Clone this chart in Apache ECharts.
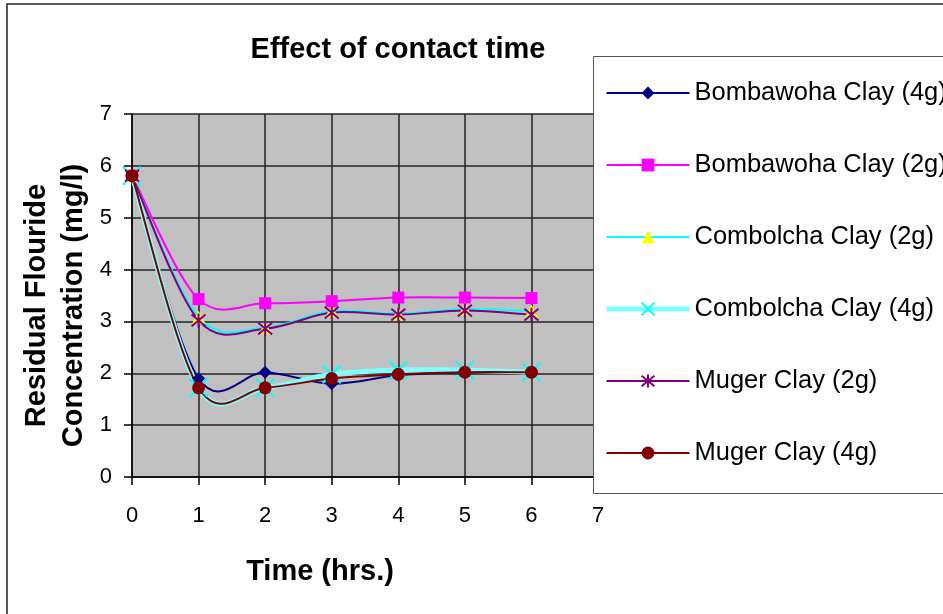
<!DOCTYPE html>
<html>
<head>
<meta charset="utf-8">
<script src="https://cdn.jsdelivr.net/npm/echarts@6/dist/echarts.min.js"></script>
<style>
  html, body { margin: 0; padding: 0; background: #ffffff; }
  #chart { width: 943px; height: 614px; }
</style>
</head>
<body>
<div id="chart"></div>
<script>
// Contact time (hours) and residual fluoride (mg/l) for each adsorbent
var hours = [0, 1, 2, 3, 4, 5, 6];
var xTicks = [0, 1, 2, 3, 4, 5, 6, 7];
var yTicks = [0, 1, 2, 3, 4, 5, 6, 7];

var bombawoha4g = [5.81, 1.90, 2.02, 1.80, 1.96, 2.02, 2.02];
var bombawoha2g = [5.81, 3.43, 3.35, 3.39, 3.46, 3.46, 3.45];
var combolcha2g = [5.81, 3.08, 2.88, 3.20, 3.15, 3.24, 3.20];
var combolcha4g = [5.81, 1.72, 1.72, 1.98, 2.06, 2.06, 2.02];
var muger2g = [5.81, 3.02, 2.86, 3.17, 3.13, 3.21, 3.13];
var muger4g = [5.81, 1.72, 1.72, 1.90, 1.98, 2.02, 2.02];

var seriesNames = [
  'Bombawoha Clay (4g)',
  'Bombawoha Clay (2g)',
  'Combolcha Clay (2g)',
  'Combolcha Clay (4g)',
  'Muger Clay (2g)',
  'Muger Clay (4g)'
];

function pairs(values) {
  return hours.map(function (h, i) { return [h, values[i]]; });
}

var FONT = '"Liberation Sans", Arial, sans-serif';

var crossPath = 'path://M0,0L10,10M10,0L0,10';
var starPath = 'path://M0,0L10,10M10,0L0,10M5,-1L5,11';

// Smoothed connecting curve: cubic Bezier segments with Catmull-Rom style
// control points (1/6 of the neighbour span), built from axis coordinates.
function curveSeries(values, color, width, z) {
  var n = values.length;
  return {
    type: 'custom',
    silent: true,
    z: z,
    data: pairs(values),
    encode: { x: 0, y: 1 },
    renderItem: function (params, api) {
      var i = params.dataIndex;
      if (i >= n - 1) { return { type: 'group', children: [] }; }
      var pt = function (k) {
        k = Math.max(0, Math.min(n - 1, k));
        return api.coord([hours[k], values[k]]);
      };
      var p0 = pt(i - 1), p1 = pt(i), p2 = pt(i + 1), p3 = pt(i + 2);
      return {
        type: 'bezierCurve',
        shape: {
          x1: p1[0], y1: p1[1],
          x2: p2[0], y2: p2[1],
          cpx1: p1[0] + (p2[0] - p0[0]) / 6,
          cpy1: p1[1] + (p2[1] - p0[1]) / 6,
          cpx2: p2[0] - (p3[0] - p1[0]) / 6,
          cpy2: p2[1] - (p3[1] - p1[1]) / 6
        },
        style: { stroke: color, lineWidth: width, fill: null, lineCap: 'round' }
      };
    }
  };
}

// Markers (and legend entries) for a series; the curve is drawn separately.
function markerSeries(name, values, opts) {
  return {
    name: name,
    type: 'line',
    data: pairs(values),
    symbol: opts.symbol,
    symbolSize: opts.size,
    showSymbol: true,
    lineStyle: { color: opts.line, width: opts.width || 2, opacity: 0 },
    itemStyle: opts.itemStyle,
    emphasis: { disabled: true },
    z: 4
  };
}

var styles = [
  { values: bombawoha4g, line: '#000080', width: 2, symbol: 'diamond', size: 13,
    itemStyle: { color: '#000080', borderWidth: 0 } },
  { values: bombawoha2g, line: '#FF00FF', width: 2, symbol: 'rect', size: 12,
    itemStyle: { color: '#FF00FF', borderWidth: 0 } },
  { values: combolcha2g, line: '#00FFFF', width: 2, symbol: 'triangle', size: 13,
    itemStyle: { color: '#FFFF00', borderWidth: 0 } },
  { values: combolcha4g, line: '#80FFFF', width: 5, symbol: crossPath, size: 18,
    itemStyle: { color: '#00FFFF', borderColor: '#00FFFF', borderWidth: 2 } },
  { values: muger2g, line: '#800080', width: 2, symbol: starPath, size: 14,
    itemStyle: { color: '#800080', borderColor: '#800080', borderWidth: 2 } },
  { values: muger4g, line: '#800000', width: 2, symbol: 'circle', size: 13,
    itemStyle: { color: '#800000', borderWidth: 0 } }
];

var series = [];
styles.forEach(function (s, idx) {
  series.push(curveSeries(s.values, s.line, s.width, 2));
});
styles.forEach(function (s, idx) {
  series.push(markerSeries(seriesNames[idx], s.values, s));
});

var legendData = styles.map(function (s, idx) {
  return {
    name: seriesNames[idx],
    lineStyle: { color: s.line, width: s.width, opacity: 1 }
  };
});

var chart = echarts.init(document.getElementById('chart'), null, { renderer: 'canvas' });

var option = {
  animation: false,
  backgroundColor: '#ffffff',
  title: {
    text: 'Effect of contact time',
    left: 393,
    top: 30,
    textAlign: 'center',
    textStyle: { fontFamily: FONT, fontSize: 29, fontWeight: 'bold', color: '#000000' }
  },
  graphic: [
    {
      type: 'rect',
      z: 0,
      silent: true,
      shape: { x: 7, y: 4, width: 1000, height: 700 },
      style: { fill: 'none', stroke: '#222222', lineWidth: 1.5 }
    },
    {
      type: 'rect',
      z: 5,
      silent: true,
      shape: { x: 593.5, y: 56.5, width: 400, height: 437 },
      style: { fill: '#ffffff', stroke: '#555555', lineWidth: 1 }
    }
  ],
  legend: {
    orient: 'vertical',
    left: 604,
    top: 79,
    padding: 0,
    itemWidth: 83,
    itemHeight: 16,
    itemGap: 44,
    z: 6,
    data: legendData,
    textStyle: { fontFamily: FONT, fontSize: 25.5, color: '#000000', lineHeight: 28 }
  },
  grid: {
    left: 132,
    top: 114,
    width: 466,
    height: 363,
    show: true,
    backgroundColor: '#C0C0C0',
    borderWidth: 0
  },
  xAxis: {
    type: 'value',
    min: xTicks[0],
    max: xTicks[xTicks.length - 1],
    interval: 1,
    name: 'Time (hrs.)',
    nameLocation: 'middle',
    nameGap: 80,
    nameTextStyle: {
      fontFamily: FONT, fontSize: 29, fontWeight: 'bold', color: '#000000',
      padding: [0, 90, 0, 0]
    },
    axisLine: { show: true, lineStyle: { color: '#000000', width: 1.5 } },
    axisTick: { show: true, length: 8, lineStyle: { color: '#000000', width: 1.5 } },
    axisLabel: { fontFamily: FONT, fontSize: 22, color: '#000000', margin: 28 },
    splitLine: { show: true, lineStyle: { color: '#222222', width: 1.5 } }
  },
  yAxis: {
    type: 'value',
    min: yTicks[0],
    max: yTicks[yTicks.length - 1],
    interval: 1,
    name: 'Residual Flouride\nConcentration (mg/l)',
    nameLocation: 'middle',
    nameRotate: 90,
    nameGap: 40,
    nameTextStyle: {
      fontFamily: FONT, fontSize: 29, fontWeight: 'bold', color: '#000000',
      lineHeight: 37, padding: [0, 20, 0, 0]
    },
    axisLine: { show: true, lineStyle: { color: '#000000', width: 1.5 } },
    axisTick: { show: true, length: 8, lineStyle: { color: '#000000', width: 1.5 } },
    axisLabel: { fontFamily: FONT, fontSize: 22, color: '#000000', margin: 20 },
    splitLine: { show: true, lineStyle: { color: '#222222', width: 1.5 } }
  },
  series: series
};

chart.setOption(option);
</script>
</body>
</html>
